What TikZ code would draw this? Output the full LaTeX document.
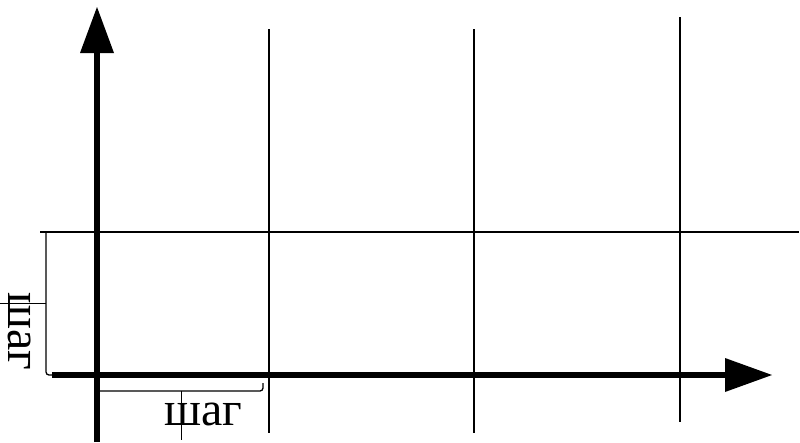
\documentclass[tikz,border=0pt]{standalone}
\usepackage{fontspec}
\setmainfont{Liberation Serif}
\begin{document}
\begin{tikzpicture}[x=1pt,y=-1pt,
  gridline/.style={line width=1.6pt},
  axisline/.style={line width=6.5pt},
  braceline/.style={line width=1.3pt},
  tickline/.style={line width=0.8pt},
  lbl/.style={font=\fontsize{48}{48}\selectfont, inner sep=0pt}]
\useasboundingbox (0,0) rectangle (800,442);
% grid
\draw[gridline] (269,29) -- (269,433);
\draw[gridline] (474,29) -- (474,433);
\draw[gridline] (680,17) -- (680,422);
\draw[gridline] (40,232) -- (799,232);
% axes
\draw[axisline] (97,442) -- (97,50);
\fill (97,7) -- (80,53) -- (114,53) -- cycle;
\draw[axisline] (52,375) -- (728,375);
\fill (772,375) -- (725,358) -- (725,392) -- cycle;
% left brace
\draw[braceline, rounded corners=3pt] (46,232) -- (46,375) -- (55,375);
\draw[tickline] (46,303) -- (0,303);
% bottom brace
\draw[braceline, rounded corners=3pt] (100,391) -- (263,391) -- (263,383);
\draw[tickline] (181,391) -- (181,440);
% labels
\node[lbl, anchor=base west, rotate=-90] (lv) at (9,292) {шаг};
\node[lbl, anchor=base west] (lh) at (164,425) {шаг};
\end{tikzpicture}
\end{document}
